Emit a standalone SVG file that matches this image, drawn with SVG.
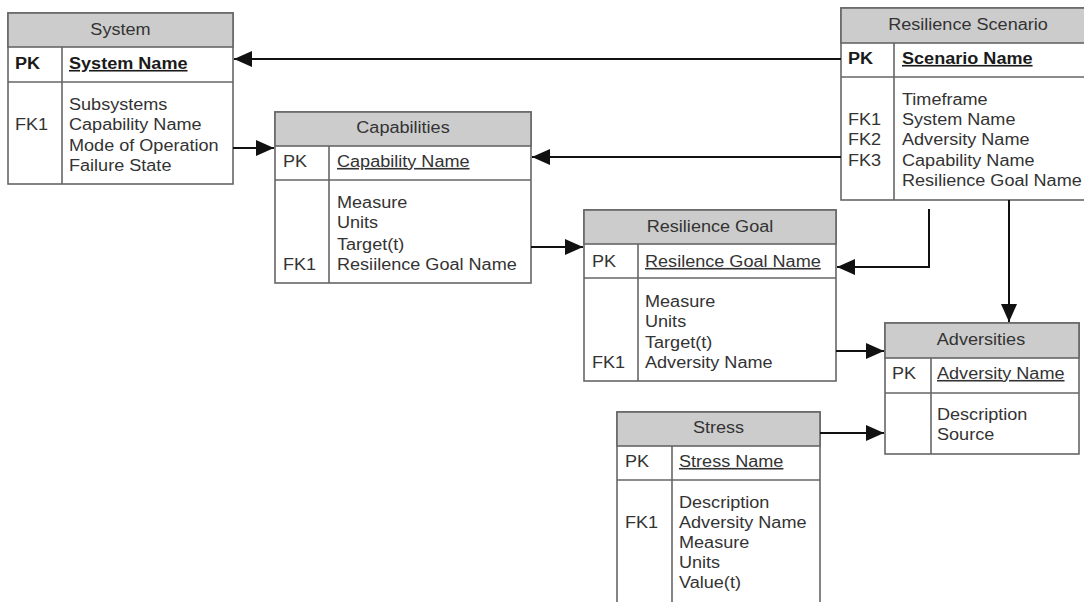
<svg xmlns="http://www.w3.org/2000/svg" width="1084" height="602" viewBox="0 0 1084 602">
  <style>
    .box { fill: #ffffff; stroke: #666666; stroke-width: 1.6; }
    .hdr { fill: #cccccc; stroke: #666666; stroke-width: 1.6; }
    .sep { stroke: #666666; stroke-width: 1.6; fill: none; }
    text { font-family: "Liberation Sans", Arial, sans-serif; font-size: 16px; fill: #333333;
           transform-box: fill-box; transform-origin: left center; transform: scaleX(1.13); }
    .ttl { text-anchor: middle; transform-origin: center; }
    .b { font-weight: bold; fill: #1a1a1a; }
    .u { text-decoration: underline; }
    .conn { stroke: #111111; stroke-width: 2; fill: none; marker-end: url(#arrow); }
  </style>
  <defs>
    <marker id="arrow" markerUnits="userSpaceOnUse" markerWidth="18" markerHeight="16" refX="18" refY="8" orient="auto">
      <path d="M0,0 L18,8 L0,16 Z" fill="#111111"/>
    </marker>
  </defs>
  <rect width="1084" height="602" fill="#ffffff"/>

  <!-- System -->
  <g id="system">
    <rect class="box" x="8" y="13" width="225" height="171"/>
    <rect class="hdr" x="8" y="13" width="225" height="34"/>
    <line class="sep" x1="8" y1="82" x2="233" y2="82"/>
    <line class="sep" x1="62" y1="47" x2="62" y2="184"/>
    <text class="ttl" x="120.5" y="35">System</text>
    <text class="b" x="15" y="69">PK</text>
    <text class="b u" x="69" y="69">System Name</text>
    <text x="15" y="130">FK1</text>
    <text x="69" y="110">Subsystems</text>
    <text x="69" y="130">Capability Name</text>
    <text x="69" y="151">Mode of Operation</text>
    <text x="69" y="171">Failure State</text>
  </g>

  <!-- Capabilities -->
  <g id="capabilities">
    <rect class="box" x="275" y="112" width="256" height="171"/>
    <rect class="hdr" x="275" y="112" width="256" height="34"/>
    <line class="sep" x1="275" y1="180" x2="531" y2="180"/>
    <line class="sep" x1="329" y1="146" x2="329" y2="283"/>
    <text class="ttl" x="403" y="133">Capabilities</text>
    <text x="283" y="167">PK</text>
    <text class="u" x="337" y="167">Capability Name</text>
    <text x="337" y="208">Measure</text>
    <text x="337" y="228">Units</text>
    <text x="337" y="250">Target(t)</text>
    <text x="283" y="270">FK1</text>
    <text x="337" y="270">Resiilence Goal Name</text>
  </g>

  <!-- Resilience Scenario -->
  <g id="resilience-scenario">
    <rect class="box" x="841" y="8" width="250" height="192"/>
    <rect class="hdr" x="841" y="8" width="250" height="35"/>
    <line class="sep" x1="841" y1="77" x2="1091" y2="77"/>
    <line class="sep" x1="894" y1="43" x2="894" y2="200"/>
    <text class="ttl" x="968" y="30">Resilience Scenario</text>
    <text class="b" x="848" y="64">PK</text>
    <text class="b u" x="902" y="64">Scenario Name</text>
    <text x="902" y="105">Timeframe</text>
    <text x="848" y="125">FK1</text>
    <text x="902" y="125">System Name</text>
    <text x="848" y="145">FK2</text>
    <text x="902" y="145">Adversity Name</text>
    <text x="848" y="166">FK3</text>
    <text x="902" y="166">Capability Name</text>
    <text x="902" y="186">Resilience Goal Name</text>
  </g>

  <!-- Resilience Goal -->
  <g id="resilience-goal">
    <rect class="box" x="584" y="210" width="252" height="171"/>
    <rect class="hdr" x="584" y="210" width="252" height="34"/>
    <line class="sep" x1="584" y1="278" x2="836" y2="278"/>
    <line class="sep" x1="638" y1="244" x2="638" y2="381"/>
    <text class="ttl" x="710" y="232">Resilience Goal</text>
    <text x="592" y="267">PK</text>
    <text class="u" x="645" y="267">Resilence Goal Name</text>
    <text x="645" y="307">Measure</text>
    <text x="645" y="327">Units</text>
    <text x="645" y="348">Target(t)</text>
    <text x="592" y="368">FK1</text>
    <text x="645" y="368">Adversity Name</text>
  </g>

  <!-- Adversities -->
  <g id="adversities">
    <rect class="box" x="885" y="323" width="194" height="131"/>
    <rect class="hdr" x="885" y="323" width="194" height="35"/>
    <line class="sep" x1="885" y1="393" x2="1079" y2="393"/>
    <line class="sep" x1="931" y1="358" x2="931" y2="454"/>
    <text class="ttl" x="981" y="345">Adversities</text>
    <text x="892" y="379">PK</text>
    <text class="u" x="937" y="379">Adversity Name</text>
    <text x="937" y="420">Description</text>
    <text x="937" y="440">Source</text>
  </g>

  <!-- Stress -->
  <g id="stress">
    <rect class="box" x="617" y="412" width="203" height="200"/>
    <rect class="hdr" x="617" y="412" width="203" height="34"/>
    <line class="sep" x1="617" y1="480" x2="820" y2="480"/>
    <line class="sep" x1="672" y1="446" x2="672" y2="612"/>
    <text class="ttl" x="718.5" y="433">Stress</text>
    <text x="625" y="467">PK</text>
    <text class="u" x="679" y="467">Stress Name</text>
    <text x="679" y="508">Description</text>
    <text x="625" y="528">FK1</text>
    <text x="679" y="528">Adversity Name</text>
    <text x="679" y="548">Measure</text>
    <text x="679" y="568">Units</text>
    <text x="679" y="588">Value(t)</text>
  </g>

  <!-- Relationships -->
  <g id="connectors">
    <path class="conn" d="M841,59 L234,59"/>
    <path class="conn" d="M233,148 L274,148"/>
    <path class="conn" d="M841,157 L532,157"/>
    <path class="conn" d="M531,247 L583,247"/>
    <path class="conn" d="M929,209 L929,267 L837,267"/>
    <path class="conn" d="M1009,200 L1009,322"/>
    <path class="conn" d="M836,351 L884,351"/>
    <path class="conn" d="M820,433 L884,433"/>
  </g>
</svg>
